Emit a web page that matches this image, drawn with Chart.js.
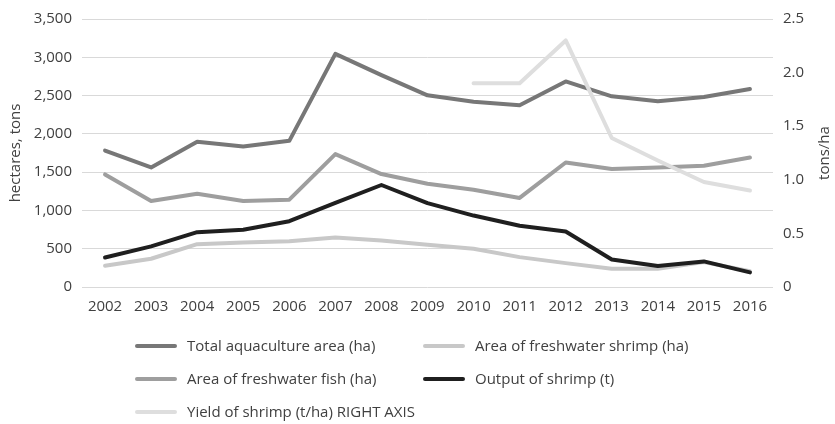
<!DOCTYPE html>
<html>
<head>
<meta charset="utf-8">
<script src="https://cdn.jsdelivr.net/npm/chart.js@4/dist/chart.umd.min.js"></script>
<style>
  html, body { margin: 0; padding: 0; background: #fff; }
  #wrap { width: 835px; height: 424px; position: relative; }
</style>
</head>
<body>
<div id="wrap"><canvas id="mycanvas"></canvas></div>
<script>
var years = ['2002','2003','2004','2005','2006','2007','2008','2009','2010','2011','2012','2013','2014','2015','2016'];
var totalArea = [1782, 1561, 1896, 1834, 1909, 3044, 2767, 2503, 2420, 2373, 2685, 2490, 2425, 2481, 2585];
var shrimpArea = [278, 369, 559, 581, 598, 647, 607, 551, 499, 390, 312, 239, 239, 325, 205];
var fishArea = [1470, 1124, 1219, 1124, 1141, 1735, 1475, 1349, 1271, 1163, 1626, 1540, 1561, 1583, 1691];
var shrimpOutput = [386, 530, 716, 747, 859, 1098, 1332, 1095, 933, 799, 725, 360, 273, 334, 191];
var shrimpYield = [null, null, null, null, null, null, null, null, 1.90, 1.90, 2.30, 1.39, 1.18, 0.98, 0.90];

var FONT = '"Open Sans", sans-serif';
var TXT = '#404040';

function line(label, data, color, axis, order) {
	return {
		label: label,
		data: data,
		borderColor: color,
		backgroundColor: color,
		borderWidth: 4,
		pointRadius: 0,
		tension: 0,
		borderCapStyle: 'round',
		borderJoinStyle: 'round',
		yAxisID: axis,
		order: order,
		spanGaps: false
	};
}

// legend laid out in two columns like the original, plus the right axis title
var sideBits = {
	id: 'sideBits',
	afterDraw: function(chart) {
		var ctx = chart.ctx;
		var colX = [135, 423];
		var rowY = [346, 379, 412];
		ctx.save();
		ctx.font = '15px ' + FONT;
		ctx.textBaseline = 'middle';
		ctx.textAlign = 'left';
		chart.data.datasets.forEach(function(ds, i) {
			var x = colX[i % 2], y = rowY[Math.floor(i / 2)];
			ctx.strokeStyle = ds.borderColor;
			ctx.lineWidth = 4;
			ctx.lineCap = 'round';
			ctx.beginPath();
			ctx.moveTo(x + 2, y);
			ctx.lineTo(x + 40, y);
			ctx.stroke();
			ctx.fillStyle = TXT;
			ctx.fillText(ds.label, x + 52, y + 1);
		});
		ctx.translate(825, chart.chartArea.top + (chart.chartArea.bottom - chart.chartArea.top) / 2);
		ctx.rotate(-Math.PI / 2);
		ctx.textAlign = 'center';
		ctx.fillText('tons/ha', 0, 0);
		ctx.restore();
	}
};

var ctx = document.getElementById('mycanvas');
var chart = new Chart(ctx, {
	type: 'line',
	data: {
		labels: years,
		datasets: [
			line('Total aquaculture area (ha)', totalArea, '#777777', 'y', 5),
			line('Area of freshwater shrimp (ha)', shrimpArea, '#c8c8c8', 'y', 4),
			line('Area of freshwater fish (ha)', fishArea, '#9e9e9e', 'y', 3),
			line('Output of shrimp (t)', shrimpOutput, '#1f1f1f', 'y', 2),
			line('Yield of shrimp (t/ha) RIGHT AXIS', shrimpYield, '#dedede', 'y1', 1)
		]
	},
	options: {
		responsive: true,
		maintainAspectRatio: false,
		animation: false,
		layout: { padding: { top: 18, bottom: 0, left: 0, right: 0 } },
		plugins: {
			legend: { display: false },
			tooltip: { enabled: false }
		},
		scales: {
			x: {
				offset: true,
				grid: { display: false },
				border: { display: false },
				ticks: { color: TXT, font: { family: FONT, size: 15 }, padding: 3, maxRotation: 0, autoSkip: false },
				afterFit: function(s) { s.height = 137; }
			},
			y: {
				position: 'left',
				min: 0, max: 3500,
				grid: { color: '#d9d9d9', lineWidth: 1, drawTicks: false },
				border: { display: false },
				ticks: {
					stepSize: 500, color: TXT, padding: 10,
					font: { family: FONT, size: 15 },
					callback: function(v) { return v.toLocaleString('en-US'); }
				},
				title: { display: true, text: 'hectares, tons', color: TXT, font: { family: FONT, size: 15 }, padding: { top: 7, bottom: 0 } },
				afterFit: function(s) { s.width = 82; }
			},
			y1: {
				position: 'right',
				min: 0, max: 2.5,
				grid: { display: false, drawTicks: false },
				border: { display: false },
				ticks: { stepSize: 0.5, color: TXT, padding: 10, font: { family: FONT, size: 15 } },
				afterFit: function(s) { s.width = 62; }
			}
		}
	},
	plugins: [sideBits]
});
</script>
</body>
</html>
